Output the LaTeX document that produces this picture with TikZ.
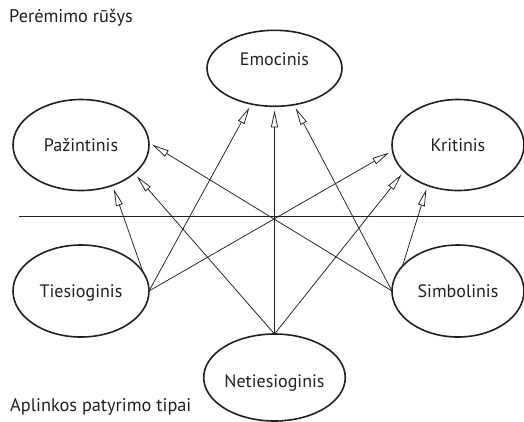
\documentclass[tikz,border=0pt]{standalone}
\usepackage{fontspec}
\setmainfont{PT Sans}
\usetikzlibrary{arrows.meta,shapes.geometric}
\definecolor{ink}{HTML}{231F20}
\begin{document}
\begin{tikzpicture}[x=1pt,y=-1pt,
  ell/.style={ellipse,draw=ink,line width=1.6pt,inner sep=0pt,outer sep=0pt,
    text=ink,font=\fontsize{18}{21}\selectfont,text height=12pt,text depth=0pt},
  conn/.style={draw=ink,line width=0.75pt,-{Triangle[open,length=17pt,width=7pt]},shorten >=4pt},
  lbl/.style={text=ink,font=\fontsize{18.3}{21}\selectfont,inner sep=0pt,anchor=west}]
\useasboundingbox (0,0) rectangle (524,421);
\node[ell,minimum width=135pt,minimum height=76pt,text height=4pt,text depth=9pt] (emo) at (274.5,68.3) {Emocinis};
\node[ell,minimum width=136pt,minimum height=91pt] (paz) at (81,145) {Pažintinis};
\node[ell,minimum width=132pt,minimum height=91pt] (kri) at (458,145) {Kritinis};
\node[ell,minimum width=136pt,minimum height=92pt] (tie) at (81,291) {Tiesioginis};
\node[ell,minimum width=132pt,minimum height=92pt] (sim) at (458,291) {Simbolinis};
\node[ell,minimum width=135pt,minimum height=87pt,text height=20pt,text depth=0pt] (net) at (274.5,377.5) {Netiesioginis};
\node[lbl] (top) at (9,18) {Perėmimo rūšys};
\node[lbl] (bot) at (10,407) {Aplinkos patyrimo tipai};
\coordinate (hl) at (19,216);
\coordinate (hr) at (524,216);
\draw[ink,line width=0.75pt] (hl) -- (hr);
% to Pazintinis
\draw[conn] (sim.west) -- (paz.2.4);
\draw[conn] (net.north) -- (paz.332);
\draw[conn] (tie.17) -- (paz.308);
% to Emocinis
\draw[conn] (tie.east) -- (emo.237);
\draw[conn] (net.north) -- (emo.south);
\draw[conn] (sim.west) -- (emo.298);
% to Kritinis
\draw[conn] (tie.east) -- (kri.185);
\draw[conn] (net.north) -- (kri.206);
\draw[conn] (sim.156) -- (kri.233);
\end{tikzpicture}
\end{document}
